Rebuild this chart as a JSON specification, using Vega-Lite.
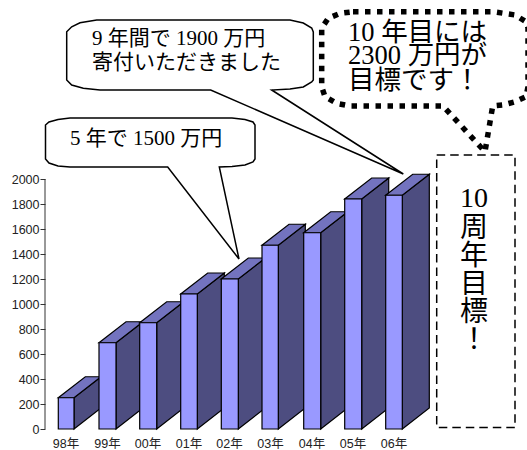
{
"$schema":"https://vega.github.io/schema/vega-lite/v6.json",
"width":482,"height":450,
"autosize":"none",
"padding":{"left":45,"top":0,"right":0,"bottom":0},
"background":"white",
"view":{"stroke":null},
"config":{"axis":{"grid":false}},
"datasets":{
"faces":[
{"id":"98s","face":"side","x":74,"v":250},{"id":"98s","face":"side","x":101,"v":418},{"id":"98s","face":"side","x":101,"v":168},{"id":"98s","face":"side","x":74,"v":0},
{"id":"98t","face":"top","x":58.3,"v":250},{"id":"98t","face":"top","x":74,"v":250},{"id":"98t","face":"top","x":101,"v":418},{"id":"98t","face":"top","x":85.3,"v":418},
{"id":"98f","face":"front","x":58.3,"v":250},{"id":"98f","face":"front","x":74,"v":250},{"id":"98f","face":"front","x":74,"v":0},{"id":"98f","face":"front","x":58.3,"v":0},
{"id":"99s","face":"side","x":116,"v":690},{"id":"99s","face":"side","x":143,"v":858},{"id":"99s","face":"side","x":143,"v":168},{"id":"99s","face":"side","x":116,"v":0},
{"id":"99t","face":"top","x":99,"v":690},{"id":"99t","face":"top","x":116,"v":690},{"id":"99t","face":"top","x":143,"v":858},{"id":"99t","face":"top","x":126,"v":858},
{"id":"99f","face":"front","x":99,"v":690},{"id":"99f","face":"front","x":116,"v":690},{"id":"99f","face":"front","x":116,"v":0},{"id":"99f","face":"front","x":99,"v":0},
{"id":"00s","face":"side","x":156.7,"v":850},{"id":"00s","face":"side","x":183.7,"v":1018},{"id":"00s","face":"side","x":183.7,"v":168},{"id":"00s","face":"side","x":156.7,"v":0},
{"id":"00t","face":"top","x":139.7,"v":850},{"id":"00t","face":"top","x":156.7,"v":850},{"id":"00t","face":"top","x":183.7,"v":1018},{"id":"00t","face":"top","x":166.7,"v":1018},
{"id":"00f","face":"front","x":139.7,"v":850},{"id":"00f","face":"front","x":156.7,"v":850},{"id":"00f","face":"front","x":156.7,"v":0},{"id":"00f","face":"front","x":139.7,"v":0},
{"id":"01s","face":"side","x":197.3,"v":1080},{"id":"01s","face":"side","x":224.3,"v":1248},{"id":"01s","face":"side","x":224.3,"v":168},{"id":"01s","face":"side","x":197.3,"v":0},
{"id":"01t","face":"top","x":180.7,"v":1080},{"id":"01t","face":"top","x":197.3,"v":1080},{"id":"01t","face":"top","x":224.3,"v":1248},{"id":"01t","face":"top","x":207.7,"v":1248},
{"id":"01f","face":"front","x":180.7,"v":1080},{"id":"01f","face":"front","x":197.3,"v":1080},{"id":"01f","face":"front","x":197.3,"v":0},{"id":"01f","face":"front","x":180.7,"v":0},
{"id":"02s","face":"side","x":238.3,"v":1200},{"id":"02s","face":"side","x":265.3,"v":1368},{"id":"02s","face":"side","x":265.3,"v":168},{"id":"02s","face":"side","x":238.3,"v":0},
{"id":"02t","face":"top","x":221.3,"v":1200},{"id":"02t","face":"top","x":238.3,"v":1200},{"id":"02t","face":"top","x":265.3,"v":1368},{"id":"02t","face":"top","x":248.3,"v":1368},
{"id":"02f","face":"front","x":221.3,"v":1200},{"id":"02f","face":"front","x":238.3,"v":1200},{"id":"02f","face":"front","x":238.3,"v":0},{"id":"02f","face":"front","x":221.3,"v":0},
{"id":"03s","face":"side","x":278.3,"v":1470},{"id":"03s","face":"side","x":305.3,"v":1638},{"id":"03s","face":"side","x":305.3,"v":168},{"id":"03s","face":"side","x":278.3,"v":0},
{"id":"03t","face":"top","x":262,"v":1470},{"id":"03t","face":"top","x":278.3,"v":1470},{"id":"03t","face":"top","x":305.3,"v":1638},{"id":"03t","face":"top","x":289,"v":1638},
{"id":"03f","face":"front","x":262,"v":1470},{"id":"03f","face":"front","x":278.3,"v":1470},{"id":"03f","face":"front","x":278.3,"v":0},{"id":"03f","face":"front","x":262,"v":0},
{"id":"04s","face":"side","x":320.7,"v":1570},{"id":"04s","face":"side","x":347.7,"v":1738},{"id":"04s","face":"side","x":347.7,"v":168},{"id":"04s","face":"side","x":320.7,"v":0},
{"id":"04t","face":"top","x":303.7,"v":1570},{"id":"04t","face":"top","x":320.7,"v":1570},{"id":"04t","face":"top","x":347.7,"v":1738},{"id":"04t","face":"top","x":330.7,"v":1738},
{"id":"04f","face":"front","x":303.7,"v":1570},{"id":"04f","face":"front","x":320.7,"v":1570},{"id":"04f","face":"front","x":320.7,"v":0},{"id":"04f","face":"front","x":303.7,"v":0},
{"id":"05s","face":"side","x":361.7,"v":1840},{"id":"05s","face":"side","x":388.7,"v":2008},{"id":"05s","face":"side","x":388.7,"v":168},{"id":"05s","face":"side","x":361.7,"v":0},
{"id":"05t","face":"top","x":344.7,"v":1840},{"id":"05t","face":"top","x":361.7,"v":1840},{"id":"05t","face":"top","x":388.7,"v":2008},{"id":"05t","face":"top","x":371.7,"v":2008},
{"id":"05f","face":"front","x":344.7,"v":1840},{"id":"05f","face":"front","x":361.7,"v":1840},{"id":"05f","face":"front","x":361.7,"v":0},{"id":"05f","face":"front","x":344.7,"v":0},
{"id":"06s","face":"side","x":402.3,"v":1870},{"id":"06s","face":"side","x":429.3,"v":2038},{"id":"06s","face":"side","x":429.3,"v":168},{"id":"06s","face":"side","x":402.3,"v":0},
{"id":"06t","face":"top","x":385.7,"v":1870},{"id":"06t","face":"top","x":402.3,"v":1870},{"id":"06t","face":"top","x":429.3,"v":2038},{"id":"06t","face":"top","x":412.7,"v":2038},
{"id":"06f","face":"front","x":385.7,"v":1870},{"id":"06f","face":"front","x":402.3,"v":1870},{"id":"06f","face":"front","x":402.3,"v":0},{"id":"06f","face":"front","x":385.7,"v":0}
],
"callout1":[
{"x":70,"v":2488},{"x":232,"v":2488},{"x":245,"v":2476},{"x":253,"v":2456},{"x":255,"v":2432},{"x":255,"v":2160},{"x":253,"v":2136},{"x":245,"v":2112},{"x":232,"v":2100},{"x":219.3,"v":2096},{"x":239,"v":1360},{"x":167.7,"v":2096},{"x":70,"v":2096},{"x":58,"v":2104},{"x":49,"v":2128},{"x":45.5,"v":2160},{"x":45.5,"v":2432},{"x":49,"v":2456},{"x":58,"v":2476}
],
"callout2":[
{"x":96.7,"v":3272},{"x":290,"v":3272},{"x":303.3,"v":3248},{"x":311.7,"v":3208},{"x":313.3,"v":3176},{"x":313.3,"v":2792},{"x":311.7,"v":2776},{"x":303.3,"v":2736},{"x":290,"v":2720},{"x":271.7,"v":2712},{"x":403.3,"v":2040},{"x":210.7,"v":2712},{"x":100,"v":2712},{"x":83.3,"v":2726},{"x":71.7,"v":2752},{"x":66.7,"v":2792},{"x":66.7,"v":3178},{"x":71.7,"v":3218},{"x":80,"v":3250}
],
"callout3":[
{"x":353,"v":3338},{"x":493,"v":3338},{"x":515,"v":3312},{"x":526,"v":3258},{"x":528,"v":3208},{"x":528,"v":2738},{"x":526,"v":2658},{"x":515,"v":2618},{"x":503,"v":2592},{"x":492.7,"v":2584},{"x":485,"v":2218},{"x":443,"v":2584},{"x":350,"v":2584},{"x":336.7,"v":2605},{"x":325,"v":2658},{"x":321.7,"v":2738},{"x":321.7,"v":3208},{"x":328.3,"v":3286},{"x":340,"v":3325}
],
"box":[{"x":436.7,"x2":515,"v":2192,"v2":12}],
"axisline":[{"x":45,"v":0,"v2":2000}],
"years":[
{"x":66,"v":-120,"t":"98年"},{"x":107.5,"v":-120,"t":"99年"},{"x":148,"v":-120,"t":"00年"},{"x":189,"v":-120,"t":"01年"},{"x":229.5,"v":-120,"t":"02年"},{"x":270.5,"v":-120,"t":"03年"},{"x":312,"v":-120,"t":"04年"},{"x":353,"v":-120,"t":"05年"},{"x":394,"v":-120,"t":"06年"}
],
"smallText":[
{"x":92,"v":3120,"t":"9 年間で 1900 万円"},{"x":92,"v":2928,"t":"寄付いただきました"},{"x":70,"v":2320,"t":"5 年で 1500 万円"}
],
"bigText":[
{"x":348,"v":3168,"t":"10 年目には"},{"x":348,"v":2984,"t":"2300 万円が"},{"x":348,"v":2784,"t":"目標です！"}
],
"vertText":[
{"x":474,"v":1840,"t":"10"},{"x":474,"v":1600,"t":"周"},{"x":474,"v":1376,"t":"年"},{"x":474,"v":1152,"t":"目"},{"x":474,"v":928,"t":"標"},{"x":474,"v":704,"t":"！"}
]
},
"encoding":{
"x":{"field":"x","type":"quantitative","scale":{"domain":[45,527]},"axis":null},
"y":{"field":"v","type":"quantitative","scale":{"domain":[-168,3432]},
 "axis":{"values":[0,200,400,600,800,1000,1200,1400,1600,1800,2000],"format":"d","title":null,"domain":false,"tickSize":5,"tickColor":"#333","labelFont":"Liberation Sans","labelFontSize":12.5,"labelColor":"#222","labelPadding":1}}
},
"layer":[
{"data":{"name":"faces"},
 "mark":{"type":"line","interpolate":"linear-closed","stroke":"#000","strokeWidth":1.2,"clip":false},
 "encoding":{"detail":{"field":"id"},"order":{"value":null},
  "fill":{"field":"face","type":"nominal","legend":null,"scale":{"domain":["front","side","top"],"range":["#9999FF","#4D4D80","#7373BF"]}}}},
{"data":{"name":"axisline"},
 "mark":{"type":"rule","stroke":"#333","strokeWidth":1},
 "encoding":{"y2":{"field":"v2"}}},
{"data":{"name":"callout1"},"mark":{"type":"line","interpolate":"linear-closed","stroke":"#000","strokeWidth":1.5,"fill":"#fff"},"encoding":{"order":{"value":null}}},
{"data":{"name":"callout2"},"mark":{"type":"line","interpolate":"linear-closed","stroke":"#000","strokeWidth":1.5,"fill":"#fff"},"encoding":{"order":{"value":null}}},
{"data":{"name":"callout3"},"mark":{"type":"line","interpolate":"linear-closed","stroke":"#000","strokeWidth":5.5,"strokeDash":[5.5,6.5],"fill":"#fff"},"encoding":{"order":{"value":null}}},
{"data":{"name":"box"},"mark":{"type":"rect","stroke":"#000","strokeWidth":1.5,"strokeDash":[8.5,5],"fill":"#fff"},"encoding":{"x2":{"field":"x2"},"y2":{"field":"v2"}}},
{"data":{"name":"years"},"mark":{"type":"text","font":"Liberation Sans, Noto Sans CJK JP","fontSize":12.5,"color":"#222","baseline":"middle"},"encoding":{"text":{"field":"t"}}},
{"data":{"name":"smallText"},"mark":{"type":"text","font":"Liberation Serif, Noto Sans CJK JP","fontSize":21,"color":"#000","align":"left","baseline":"middle"},"encoding":{"text":{"field":"t"}}},
{"data":{"name":"bigText"},"mark":{"type":"text","font":"Liberation Serif, Noto Sans CJK JP","fontSize":26.5,"color":"#000","align":"left","baseline":"middle"},"encoding":{"text":{"field":"t"}}},
{"data":{"name":"vertText"},"mark":{"type":"text","font":"Liberation Serif, Noto Sans CJK JP","fontSize":28,"color":"#000","baseline":"middle"},"encoding":{"text":{"field":"t"}}}
]
}
